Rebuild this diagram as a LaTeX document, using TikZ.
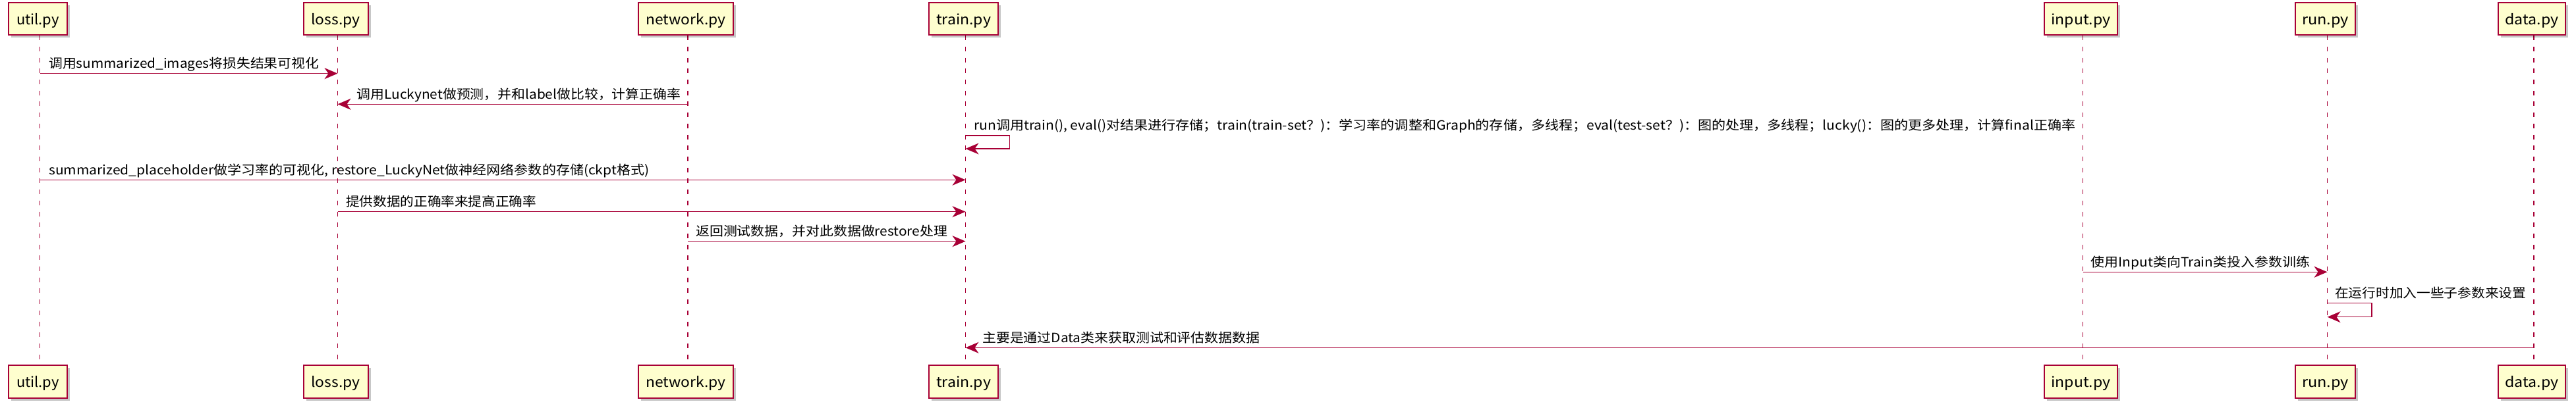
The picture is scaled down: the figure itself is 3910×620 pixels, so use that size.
\documentclass[tikz,border=0pt]{standalone}
\usepackage{fontspec}
\setmainfont{Noto Sans CJK SC}
\usepackage{graphicx}
\usetikzlibrary{arrows.meta,shadows,backgrounds}
\definecolor{pumlred}{HTML}{A80036}
\definecolor{pumlfill}{HTML}{FEFECE}
\newcommand\fitw[2]{\resizebox{#1pt}{\height}{#2}}
\begin{document}
\begin{tikzpicture}[x=1pt,y=-1pt,
  partbox/.style={draw=pumlred, fill=pumlfill, line width=2pt, minimum height=49.3pt,
    inner sep=0pt, text height=17.3pt, text depth=0pt,
    font=\fontsize{21.5}{22}\selectfont,
    drop shadow={shadow xshift=4pt, shadow yshift=-4pt, fill=black, opacity=0.22}},
  msglbl/.style={anchor=base west, inner sep=0pt, font=\fontsize{19.5}{20}\selectfont},
  msg/.style={draw=pumlred, line width=1.4pt, -{Stealth[length=20pt,width=17pt,inset=6pt]}},
  lifeline/.style={draw=pumlred, line width=1.2pt, dash pattern=on 7pt off 9.7pt}]
\useasboundingbox (0,0) rectangle (3910,620);
\foreach \n/\x/\w/\lw/\t in {util/60.5/88.4/64.7/util.py, loss/512.5/98/74/loss.py,
    network/1044/144/121/network.py, train/1465.5/105.6/83/train.py,
    input/3161.5/111/90/input.py, run/3532.5/91.7/71/run.py, data/3846/102/81/data.py}{
  \coordinate (\n L) at (\x,0);
  \node[partbox, minimum width=\w pt] (\n T) at (\x-3,28.65) {\fitw{\lw}{\t}};
  \node[partbox, minimum width=\w pt] (\n B) at (\x-3,580) {\fitw{\lw}{\t}};
}
\begin{scope}[on background layer]
\foreach \n in {util,loss,network,train,input,run,data}{
  \draw[lifeline] (\n L |- \n T.south) -- (\n L |- \n B.north);
}
\draw[msg] (utilL |- 0,111.7) -- (lossL |- 0,111.7);
\draw[msg] (networkL |- 0,158.3) -- (lossL |- 0,158.3);
\draw[msg] (trainL |- 0,206) -- ++(67,0) -- ++(0,20) -- (trainL |- 0,226);
\draw[msg] (utilL |- 0,273.3) -- (trainL |- 0,273.3);
\draw[msg] (lossL |- 0,321.7) -- (trainL |- 0,321.7);
\draw[msg] (networkL |- 0,366.7) -- (trainL |- 0,366.7);
\draw[msg] (inputL |- 0,413.3) -- (runL |- 0,413.3);
\draw[msg] (runL |- 0,460.7) -- ++(67.5,0) -- ++(0,21) -- (runL |- 0,481.7);
\draw[msg] (dataL |- 0,528.3) -- (trainL |- 0,528.3);
\end{scope}
\node[msglbl] (t1) at (74,103.7) {\fitw{410}{调用summarized\_images将损失结果可视化}};
\node[msglbl] (t2) at (541.5,150.3) {\fitw{491.5}{调用Luckynet做预测，并和label做比较，计算正确率}};
\node[msglbl] (t3) at (1478,198) {\fitw{1672}{run调用train(), eval()对结果进行存储；train(train-set？)：学习率的调整和Graph的存储，多线程；eval(test-set？)：图的处理，多线程；lucky()：图的更多处理，计算final正确率}};
\node[msglbl] (t4) at (74,265.3) {\fitw{911}{summarized\_placeholder做学习率的可视化, restore\_LuckyNet做神经网络参数的存储(ckpt格式)}};
\node[msglbl] (t5) at (525,313.7) {\fitw{289}{提供数据的正确率来提高正确率}};
\node[msglbl] (t6) at (1056,358.7) {\fitw{382}{返回测试数据，并对此数据做restore处理}};
\node[msglbl] (t7) at (3173.7,405.3) {\fitw{332}{使用Input类向Train类投入参数训练}};
\node[msglbl] (t8) at (3544,452.7) {\fitw{290}{在运行时加入一些子参数来设置}};
\node[msglbl] (t9) at (1491,520.3) {\fitw{421}{主要是通过Data类来获取测试和评估数据数据}};
\end{tikzpicture}
\end{document}
